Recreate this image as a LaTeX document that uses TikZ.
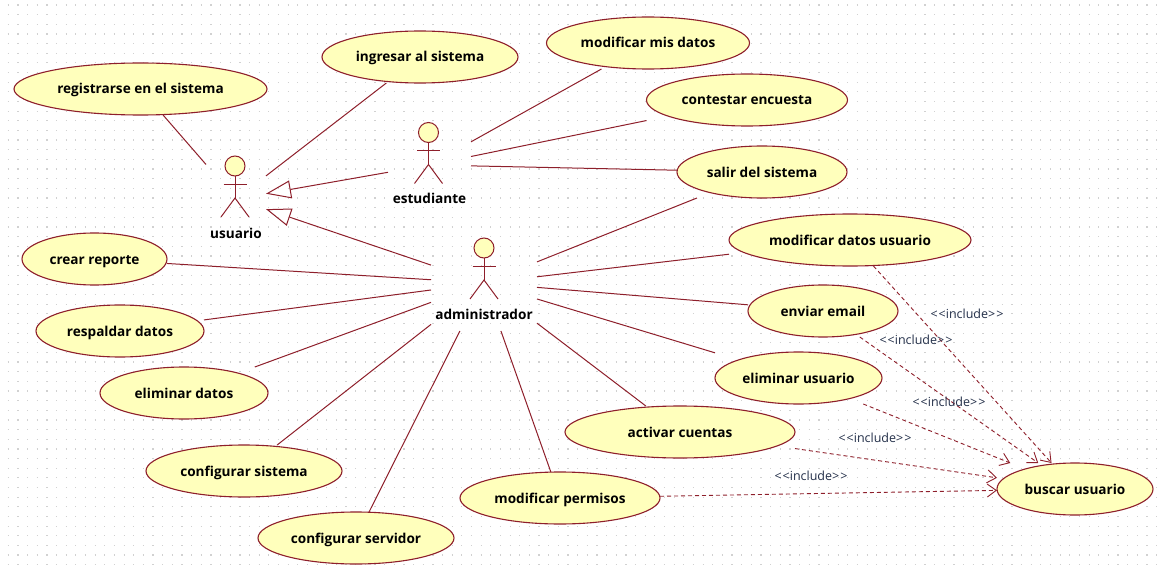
\documentclass[tikz,border=0pt]{standalone}
\usepackage{fontspec}
\setmainfont{Open Sans}
\usetikzlibrary{arrows.meta, shapes.geometric}

\definecolor{umlline}{HTML}{8E1F2B}
\definecolor{umlfill}{HTML}{FFFFBC}
\definecolor{umltext}{HTML}{24304A}

\tikzset{
	usecase/.style={rectangle, inner sep=0pt, outer sep=0pt, minimum height=52pt, text height=10pt, text depth=0pt, font=\fontsize{13.6}{16}\selectfont\bfseries},
	casoborde/.style={draw=umlline, fill=umlfill, line width=1.1pt},
	actorbox/.style={rectangle, inner sep=0pt, outer sep=0pt},
	actorname/.style={text height=10pt, text depth=0pt, font=\fontsize{13.6}{16}\selectfont\bfseries},
	griddots/.style={draw=black!18, line width=1.2pt, dash pattern=on 1.2pt off 8.45pt},
	stick/.style={draw=umlline, line width=1pt},
	assoc/.style={draw=umlline, line width=1pt},
	generaliza/.style={draw=umlline, line width=1pt, -{Triangle[open, length=25pt, width=18pt]}},
	incluye/.style={draw=umlline, line width=0.9pt, dash pattern=on 4pt off 3pt, -{Straight Barb[length=9pt, width=13pt]}},
	estereotipo/.style={text=umltext, font=\fontsize{12.5}{15}\selectfont}
}

% name, x, y, width, text
\newcommand{\casouso}[5]{
	\draw[casoborde] (#2,#3) ellipse ({#4/2} and 26);
	\node[usecase, minimum width=#4pt] (#1) at (#2,#3) {#5};
}
\newcommand{\incl}{{<}\kern1pt{<}include{>}\kern1pt{>}}

\begin{document}
\begin{tikzpicture}[x=1pt, y=-1pt]
	\useasboundingbox (0,0) rectangle (1162,575);
	\fill[white] (0,0) rectangle (1162,575);

	% Grid of dots
	\foreach \j in {0,...,58} {
		\draw[griddots] (7.7,{5+9.65*\j}) -- (1162,{5+9.65*\j});
	}

	% Use cases
	\casouso{registrarse}{140.5}{89}{253}{registrarse en el sistema}
	\casouso{ingresar}{420}{57}{196}{ingresar al sistema}
	\casouso{misdatos}{648}{43}{203}{modificar mis datos}
	\casouso{encuesta}{747}{100}{201}{contestar encuesta}
	\casouso{salir}{762}{172}{170}{salir del sistema}
	\casouso{datosusuario}{850}{240}{242}{modificar datos usuario}
	\casouso{email}{823}{311}{150}{enviar email}
	\casouso{eliminarusuario}{798.5}{378}{167}{eliminar usuario}
	\casouso{activar}{680}{432}{230}{activar cuentas}
	\casouso{permisos}{560}{498}{200}{modificar permisos}
	\casouso{buscar}{1075}{489}{156}{buscar usuario}
	\casouso{servidor}{356}{538}{196}{configurar servidor}
	\casouso{sistema}{244}{471}{196}{configurar sistema}
	\casouso{eliminardatos}{184}{393}{168}{eliminar datos}
	\casouso{respaldar}{120}{331}{168}{respaldar datos}
	\casouso{reporte}{94.5}{259}{145}{crear reporte}

	% Actors
	\node[actorbox, minimum width=60pt, minimum height=88pt] (usuario) at (236,199) {};
	\node[actorbox, minimum width=83pt, minimum height=86pt] (estudiante) at (429.5,165) {};
	\node[actorbox, minimum width=106pt, minimum height=96pt] (administrador) at (484,283) {};
	\node[actorname] (usuarionombre) at (236,233) {usuario};
	\node[actorname] (estudiantenombre) at (429.5,198.5) {estudiante};
	\node[actorname] (administradornombre) at (484,314) {administrador};

	% Stick figures
	\foreach \x/\y in {235/166, 428.5/132.5, 484/248} {
		\draw[stick, fill=umlfill] (\x,\y) circle (10);
		\draw[stick] (\x,\y+10) -- (\x,\y+32);
		\draw[stick] (\x-11.5,\y+18) -- (\x+11.5,\y+18);
		\draw[stick] (\x-14,\y+51) -- (\x,\y+32) -- (\x+14,\y+51);
	}

	% Associations
	\draw[assoc] (usuario) -- (registrarse);
	\draw[assoc] (usuario) -- (ingresar);
	\draw[assoc] (estudiante) -- (misdatos);
	\draw[assoc] (estudiante) -- (encuesta);
	\draw[assoc] (estudiante) -- (salir);
	\draw[assoc] (administrador) -- (salir);
	\draw[assoc] (administrador) -- (datosusuario);
	\draw[assoc] (administrador) -- (email);
	\draw[assoc] (administrador) -- (eliminarusuario);
	\draw[assoc] (administrador) -- (activar);
	\draw[assoc] (administrador) -- (permisos);
	\draw[assoc] (administrador) -- (servidor);
	\draw[assoc] (administrador) -- (sistema);
	\draw[assoc] (administrador) -- (eliminardatos);
	\draw[assoc] (administrador) -- (respaldar);
	\draw[assoc] (administrador) -- (reporte);

	% Generalizations
	\draw[generaliza] (estudiante) -- (usuario);
	\draw[generaliza] (administrador) -- (usuario);

	% Includes
	\draw[incluye] (datosusuario) -- (buscar);
	\draw[incluye] (email) -- (buscar);
	\draw[incluye] (eliminarusuario) -- (buscar);
	\draw[incluye] (activar) -- (buscar);
	\draw[incluye] (permisos) -- (buscar);

	% Stereotype labels
	\node[estereotipo] (incluye1) at (967,314) {\incl};
	\node[estereotipo] (incluye2) at (916,340) {\incl};
	\node[estereotipo] (incluye3) at (949,402) {\incl};
	\node[estereotipo] (incluye4) at (875,438) {\incl};
	\node[estereotipo] (incluye5) at (811,476) {\incl};
\end{tikzpicture}
\end{document}
